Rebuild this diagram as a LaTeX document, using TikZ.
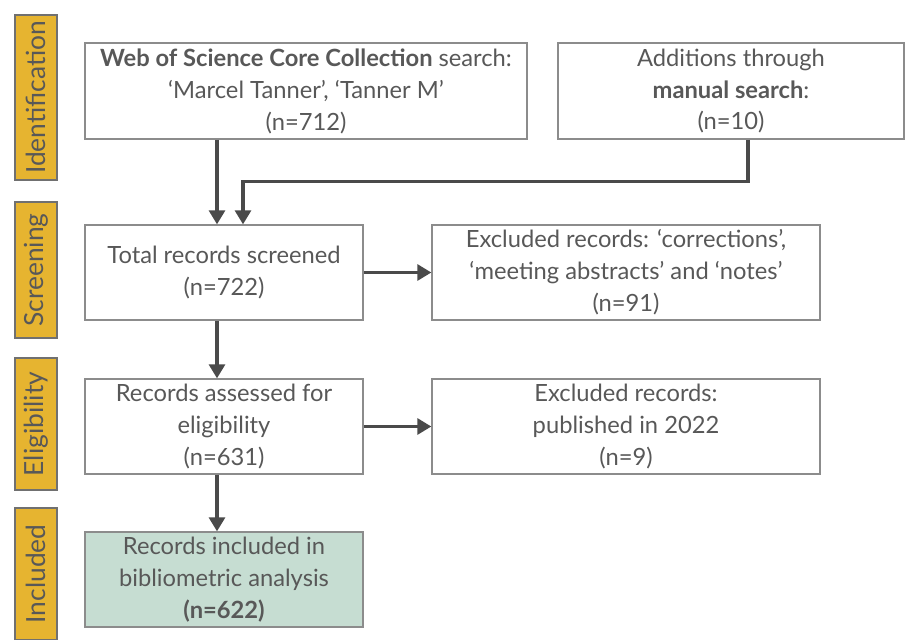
\documentclass[tikz,border=0pt]{standalone}
\usepackage{fontspec}
\setmainfont{Lato}
\usepackage{tikz}
\usetikzlibrary{positioning,arrows.meta,calc}
\usepackage{xcolor}
\definecolor{inkgray}{HTML}{585858}
\definecolor{edgegray}{HTML}{8C8C8C}
\definecolor{arrowgray}{HTML}{4A4A4A}
\definecolor{stagegold}{HTML}{E6B430}
\definecolor{stagerim}{HTML}{707070}
\definecolor{mint}{HTML}{C6DDD2}

\begin{document}
\begin{tikzpicture}[
    font=\fontsize{13.5}{18.2}\selectfont,
    recbox/.style={draw=edgegray, line width=0.7pt, text=inkgray, align=center, minimum height=1.9cm, inner sep=2pt},
    stagebox/.style={draw=stagerim, fill=stagegold, line width=1.1pt, text=inkgray, rotate=90, minimum height=0.84cm, inner sep=0pt, font=\fontsize{15}{18}\selectfont},
    flow/.style={-{Triangle[length=8pt,width=9pt]}, line width=2.1pt, draw=arrowgray}
]
    \useasboundingbox (0, 0) rectangle (18.28, -12.78);

    % stages
    \node[stagebox, minimum width=3.3cm] (ident) at (0.72, -1.95) {Identification};
    \node[stagebox, minimum width=2.72cm] (screen) at (0.72, -5.4) {Screening};
    \node[stagebox, minimum width=2.64cm] (elig) at (0.72, -8.48) {Eligibility};
    \node[stagebox, minimum width=2.64cm] (incl) at (0.72, -11.48) {Included};

    % records
    \node[recbox, minimum width=8.84cm, minimum height=1.92cm] (wos) at (6.12, -1.82)
        {\textbf{Web of Science Core Collection} search:\\ `Marcel Tanner', `Tanner M'\\ (n=712)};
    \node[recbox, minimum width=6.92cm, minimum height=1.92cm] (manual) at (14.62, -1.82)
        {Additions through\\ \textbf{manual search}:\\ (n=10)};
    \node[recbox, minimum width=5.56cm] (total) at (4.48, -5.45)
        {Total records screened\\ (n=722)};
    \node[recbox, minimum width=7.76cm] (excl1) at (12.52, -5.45)
        {Excluded records: `corrections',\\ `meeting abstracts' and `notes'\\ (n=91)};
    \node[recbox, minimum width=5.56cm] (assess) at (4.48, -8.53)
        {Records assessed for\\ eligibility\\ (n=631)};
    \node[recbox, minimum width=7.76cm] (excl2) at (12.52, -8.53)
        {Excluded records:\\ published in 2022\\ (n=9)};
    \node[recbox, fill=mint, minimum width=5.56cm] (final) at (4.48, -11.59)
        {Records included in\\ bibliometric analysis\\ \textbf{(n=622)}};

    % connectors
    \draw[flow] ([xshift=-0.14cm]total.north |- wos.south) -- ([xshift=-0.14cm]total.north);
    \draw[flow] ([xshift=0.34cm]manual.south) -- ++(0, -0.84) -| ([xshift=0.38cm]total.north);
    \draw[flow] (total.east) -- (excl1.west);
    \draw[flow] ([xshift=-0.14cm]total.south) -- ([xshift=-0.14cm]assess.north);
    \draw[flow] (assess.east) -- (excl2.west);
    \draw[flow] ([xshift=-0.14cm]assess.south) -- ([xshift=-0.14cm]final.north);
\end{tikzpicture}
\end{document}
